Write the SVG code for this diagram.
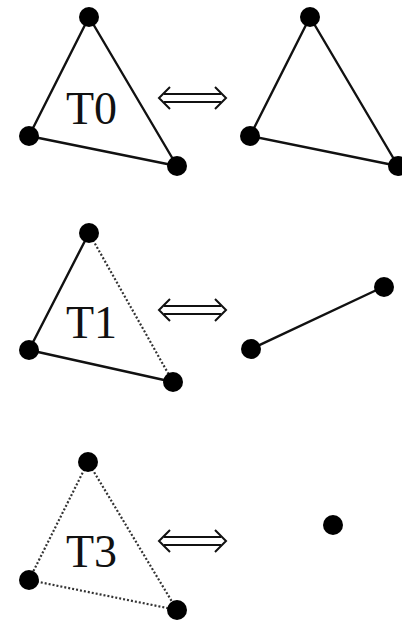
<svg xmlns="http://www.w3.org/2000/svg" width="402" height="621" viewBox="0 0 402 621">
<style>
.e{stroke:#111;stroke-width:2.4;fill:none;stroke-linecap:round}
.d{stroke:#333;stroke-width:2.2;fill:none;stroke-dasharray:2 2}
.v{fill:#000}
.t{font-family:"Liberation Serif",serif;font-size:46px;fill:#111}
.a{stroke:#111;stroke-width:2;fill:none;stroke-linejoin:miter}
</style>
<rect width="402" height="621" fill="#fff"/>
<g id="connectors">
<line class="e" x1="89" y1="17" x2="29" y2="136"/>
<line class="e" x1="89" y1="17" x2="177" y2="166"/>
<line class="e" x1="29" y1="136" x2="177" y2="166"/>
<line class="e" x1="310" y1="17" x2="250" y2="136"/>
<line class="e" x1="310" y1="17" x2="398" y2="166"/>
<line class="e" x1="250" y1="136" x2="398" y2="166"/>
<line class="e" x1="89" y1="233" x2="29" y2="350"/>
<line class="d" x1="89" y1="233" x2="173" y2="382"/>
<line class="e" x1="29" y1="350" x2="173" y2="382"/>
<line class="e" x1="251" y1="349" x2="383" y2="287"/>
<line class="d" x1="88" y1="462" x2="29" y2="580"/>
<line class="d" x1="88" y1="462" x2="177" y2="610"/>
<line class="d" x1="29" y1="580" x2="177" y2="610"/>
</g>
<g id="T0">
<circle class="v" cx="89" cy="17" r="10"/>
<circle class="v" cx="29" cy="136" r="10"/>
<circle class="v" cx="177" cy="166" r="10"/>
<text class="t" x="66" y="124">T0</text>
</g>
<g id="arrow0">
<path class="a" d="M170,87 L159,98 L170,109 M215,87 L226,98 L215,109 M164,94 H221 M164,102 H221"/>
</g>
<g id="R0">
<circle class="v" cx="310" cy="17" r="10"/>
<circle class="v" cx="250" cy="136" r="10"/>
<circle class="v" cx="398" cy="166" r="10"/>
</g>
<g id="T1">
<circle class="v" cx="89" cy="233" r="10"/>
<circle class="v" cx="29" cy="350" r="10"/>
<circle class="v" cx="173" cy="382" r="10"/>
<text class="t" x="66" y="338">T1</text>
</g>
<g id="arrow1">
<path class="a" d="M170,299 L159,310 L170,321 M215,299 L226,310 L215,321 M164,306 H221 M164,314 H221"/>
</g>
<g id="R1">
<circle class="v" cx="251" cy="349" r="10"/>
<circle class="v" cx="384" cy="287" r="10"/>
</g>
<g id="T3">
<circle class="v" cx="88" cy="462" r="10"/>
<circle class="v" cx="29" cy="580" r="10"/>
<circle class="v" cx="177" cy="610" r="10"/>
<text class="t" x="66" y="567">T3</text>
</g>
<g id="arrow3">
<path class="a" d="M170,530 L159,541 L170,552 M215,530 L226,541 L215,552 M164,537 H221 M164,545 H221"/>
</g>
<g id="R3">
<circle class="v" cx="333" cy="525" r="10"/>
</g>
</svg>
